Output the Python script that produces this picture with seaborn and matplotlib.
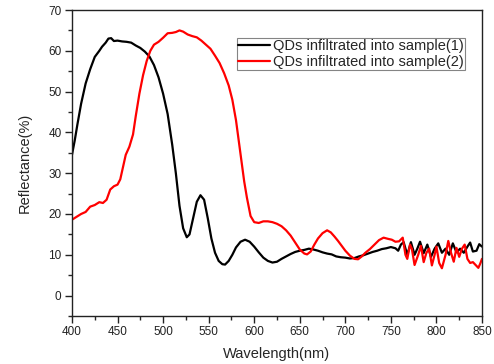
import numpy as np
import pandas as pd
import matplotlib
matplotlib.use("Agg")
import matplotlib.pyplot as plt
import seaborn as sns
from matplotlib.ticker import MultipleLocator

series_names = ["QDs infiltrated into sample(1)", "QDs infiltrated into sample(2)"]

wl_1 = [400, 403, 406, 410, 415, 420, 425, 430, 433, 437, 440, 443, 446, 450, 455, 460, 465,
        470, 475, 480, 485, 490, 495, 500, 505, 510, 514, 518, 522, 526, 529, 533, 537, 541,
        545, 549, 553, 557, 561, 565, 568, 572, 576, 580, 585, 590, 595, 600, 605, 610, 615,
        620, 625, 630, 635, 640, 645, 650, 655, 660, 665, 670, 675, 680, 685, 690, 695, 700,
        705, 710, 715, 720, 725, 730, 735, 740, 745, 750, 755, 758, 761, 764, 768, 772, 776,
        779, 782, 786, 790, 794, 798, 802, 806, 810, 814, 818, 822, 826, 830, 834, 837, 840,
        844, 847, 850]
refl_1 = [34.5, 38, 42, 47, 52, 55.5, 58.5, 60, 61, 62, 63, 63.1, 62.4, 62.5, 62.3, 62.2, 62,
          61.3, 60.7, 59.8, 58.6, 56.5, 53.5, 49.5, 44.5, 37, 30, 22, 16.5, 14.3, 15, 19, 23, 24.6,
          23.5, 19, 14, 10.5, 8.5, 7.7, 7.6, 8.5, 10, 11.8, 13.2, 13.7, 13.2, 12, 10.6, 9.3, 8.5,
          8.1, 8.3, 9, 9.6, 10.2, 10.7, 11, 11.2, 11.5, 11.3, 11, 10.6, 10.3, 10.1, 9.6, 9.4, 9.3,
          9.1, 9.2, 9.6, 9.9, 10.3, 10.7, 11, 11.4, 11.6, 11.9, 11.6, 11, 12.5, 13.1, 10, 13.1, 10,
          11.5, 13.2, 10.4, 12.5, 9.5, 11.5, 12.8, 10.5, 11.5, 10, 12.8, 10.6, 11.5, 10.5, 12, 13,
          10.8, 11, 12.6, 12]

wl_2 = [400, 405, 410, 415, 420, 425, 430, 434, 438, 442, 446, 450, 453, 456, 459, 463, 467,
        470, 474, 478, 482, 486, 490, 495, 500, 505, 510, 514, 518, 522, 527, 532, 537, 542,
        547, 552, 557, 562, 567, 572, 576, 580, 583, 586, 589, 592, 596, 600, 605, 610, 615,
        620, 625, 630, 635, 640, 645, 650, 655, 658, 662, 666, 670, 675, 680, 684, 688, 692,
        696, 700, 705, 710, 714, 718, 722, 727, 732, 737, 742, 747, 751, 755, 759, 763, 766,
        768, 771, 773, 776, 780, 783, 786, 789, 792, 795, 798, 800, 803, 806, 810, 813, 816,
        819, 822, 825, 828, 831, 834, 837, 840, 843, 846, 848, 850]
refl_2 = [18.6, 19.3, 20, 20.5, 21.8, 22.2, 22.9, 22.7, 23.5, 26, 26.8, 27.2, 28.5, 31.5, 34.5,
          36.5, 39.5, 44, 49.5, 54, 57.5, 60, 61.5, 62.2, 63.2, 64.3, 64.4, 64.6, 65, 64.7, 64,
          63.6, 63.3, 62.5, 61.5, 60.5, 58.8, 57, 54.5, 51.5, 48, 43, 38, 33, 28, 24, 19.5, 18,
          17.8, 18.2, 18.2, 18, 17.6, 17, 16, 14.7, 13, 11.3, 10.3, 10.1, 10.8, 12.5, 14, 15.3,
          16, 15.5, 14.5, 13.4, 12.2, 11, 9.8, 9, 8.9, 9.6, 10.5, 11.4, 12.5, 13.6, 14.2, 13.9,
          13.7, 13.2, 13.3, 14.2, 10, 9, 12.5, 11.5, 7.5, 10, 12.2, 8.2, 10.5, 11.5, 7.4, 10, 12,
          8, 6.7, 10, 13.4, 10.5, 8.3, 11.7, 9.5, 11.5, 12.5, 9, 8, 8.2, 7.5, 6.8, 7.8, 9]

x_ticks = [400, 450, 500, 550, 600, 650, 700, 750, 800, 850]
y_ticks = [0, 10, 20, 30, 40, 50, 60, 70]

df = pd.concat([
    pd.DataFrame({"Wavelength": wl_1, "Reflectance": refl_1, "Sample": series_names[0]}),
    pd.DataFrame({"Wavelength": wl_2, "Reflectance": refl_2, "Sample": series_names[1]}),
], ignore_index=True)

sns.set_style("ticks")
plt.rcParams["font.family"] = ["Liberation Sans", "DejaVu Sans"]

fig = plt.figure(figsize=(4.94, 3.64), dpi=100)
ax = fig.add_axes([0.1457, 0.1319, 0.8300, 0.8406])

sns.lineplot(data=df, x="Wavelength", y="Reflectance", hue="Sample",
             palette=["black", "#ff0000"], linewidth=1.6, sort=False,
             estimator=None, ax=ax)

ax.set_xlim(400, 850)
ax.set_ylim(-5, 70)
ax.set_xticks(x_ticks)
ax.set_yticks(y_ticks)
ax.xaxis.set_minor_locator(MultipleLocator(25))
ax.yaxis.set_minor_locator(MultipleLocator(5))
ax.tick_params(which="major", direction="out", length=5, width=1, labelsize=8.5,
               pad=2.5, top=False, right=False, colors="#222222")
ax.tick_params(which="minor", direction="out", length=3, width=1, top=False, right=False)
for s in ax.spines.values():
    s.set_visible(True)
    s.set_linewidth(1.0)
    s.set_color("#222222")

ax.set_xlabel("Wavelength(nm)", fontsize=10.5, labelpad=6)
ax.set_ylabel("Reflectance(%)", fontsize=10.5, labelpad=12)

leg = ax.legend(loc="upper right", bbox_to_anchor=(0.958, 0.91), fontsize=10.5,
                frameon=True, fancybox=False, handlelength=2.2, handletextpad=0.15,
                borderpad=0.1, labelspacing=0.12, borderaxespad=0)
leg.get_frame().set_edgecolor("#666666")
leg.get_frame().set_linewidth(0.8)
for line in leg.get_lines():
    line.set_linewidth(1.6)

fig.savefig("out.png", dpi=100)
